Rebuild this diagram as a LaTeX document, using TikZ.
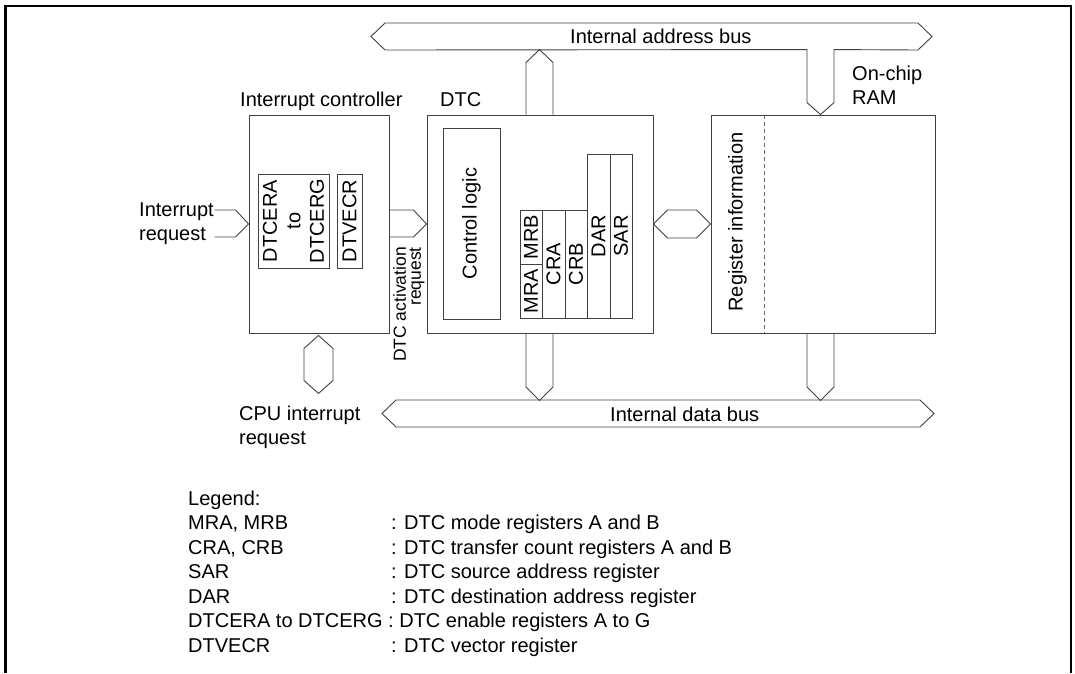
\documentclass[tikz,border=0pt]{standalone}
\usepackage{fontspec}
\setmainfont{Liberation Sans}
\usetikzlibrary{calc}
\tikzset{
  ln/.style={draw=black!75, line width=0.9pt, line join=miter},
  box/.style={ln, rectangle, inner sep=0pt},
  txt/.style={inner sep=0pt, text=black, font=\fontsize{20}{24.5}\selectfont},
}
\begin{document}
\begin{tikzpicture}[x=1pt,y=-1pt]
\useasboundingbox (0,0) rectangle (1075,673);
% outer frame
\draw[line width=2.2pt, black] (5.5,673) -- (5.5,6) -- (1070.7,6) -- (1070.7,673);

% main boxes
\node[box, minimum width=140, minimum height=218] (ic) at (319,224) {};
\node[box, minimum width=226, minimum height=218] (dtc) at (540,224) {};
\node[box, minimum width=224, minimum height=218] (ram) at (823,224) {};

% interrupt controller registers
\node[box, txt, rotate=90, minimum width=94, minimum height=71, align=center,
      font=\fontsize{20}{23.5}\selectfont] (dtcer) at (293.5,221) {DTCERA\\to\\DTCERG};
\node[box, txt, rotate=90, minimum width=94, minimum height=25] (dtvecr) at (349.5,221) {DTVECR};

% DTC internals
\node[box, txt, rotate=90, minimum width=191, minimum height=57] (ctrl) at (471.5,223.5) {Control logic};
\node[box, txt, rotate=90, minimum width=54, minimum height=22] (mrb) at (531,237) {MRB};
\node[box, txt, rotate=90, minimum width=54, minimum height=22] (mra) at (531,291) {MRA};
\node[box, txt, rotate=90, minimum width=108, minimum height=23] (cra) at (553.5,264) {CRA};
\node[box, txt, rotate=90, minimum width=108, minimum height=22] (crb) at (576,264) {CRB};
\node[box, txt, rotate=90, minimum width=164, minimum height=23] (dar) at (598.5,236) {DAR};
\node[box, txt, rotate=90, minimum width=164, minimum height=22] (sar) at (621,236) {SAR};

% RAM internals
\node[txt, rotate=90] (reginfo) at (737.5,222) {Register information};
\draw[draw=black!60, line width=0.9pt, dash pattern=on 4pt off 3pt]
  ($(ram.north west)+(54,0)$) -- ($(ram.south west)+(54,0)$);

% labels
\node[txt, anchor=base west] (iclbl) at (240,106) {Interrupt controller};
\node[txt, anchor=base west] (dtclbl) at (440,106) {DTC};
\node[txt, anchor=north west, align=left] (ramlbl) at (852,65.5) {On-chip\\RAM};
\node[txt, anchor=north west, align=left] (irq) at (139,202.5) {Interrupt\\request};
\node[txt, anchor=north west, align=left] (cpuirq) at (239,405.5) {CPU interrupt\\request};
\node[txt, rotate=90, anchor=north east, align=right,
      font=\fontsize{17.5}{15}\selectfont] (act) at (393,247) {DTC activation\\request};

% internal address bus with T-branch into RAM
\draw[ln] (371,36.5) -- (385,23) -- (918,23) -- (932,36.5) -- (918,50)
  -- ($(ram.north)+(11,-65)$) -- ($(ram.north)+(11,-12)$) -- ($(ram.north)+(-2.5,0)$)
  -- ($(ram.north)+(-16,-12)$) -- ($(ram.north)+(-16,-65)$) -- (385,50) -- cycle;
\node[txt, anchor=base west] (abus) at (570,43.7) {Internal address bus};

% DTC to address bus
\draw[ln] ($(dtc.north)+(-14,0)$) -- ++(0,-52) -- ++(13.5,-13) -- ++(13.5,13) -- ($(dtc.north)+(13,0)$);

% internal data bus
\draw[ln] (382,413.5) -- (396,400) -- (920,400) -- (934,413.5) -- (920,427) -- (396,427) -- cycle;
\node[txt, anchor=base west] (dbus) at (610,421) {Internal data bus};

% DTC and RAM to data bus
\draw[ln] ($(dtc.south)+(-14,0)$) -- ++(0,53.5) -- ++(13.5,13.5) -- ++(13.5,-13.5) -- ($(dtc.south)+(13,0)$);
\draw[ln] ($(ram.south)+(-16,0)$) -- ++(0,53.5) -- ++(13.5,13.5) -- ++(13.5,-13.5) -- ($(ram.south)+(11,0)$);

% CPU interrupt request (bidirectional)
\draw[ln] ($(ic.south)+(-15,15)$) -- ++(14.5,-13) -- ++(14.5,13) -- ++(0,32) -- ++(-14.5,13) -- ++(-14.5,-13) -- cycle;

% interrupt request into IC
\draw[ln] ($(ic.west)+(-34,-14)$) -- ++(21,0) -- (ic.west) -- ($(ic.west)+(-13,13)$) -- ++(-21,0);

% DTC activation request
\draw[ln] ($(ic.east)+(0,-14)$) -- ++(24,0) -- (dtc.west) -- ($(ic.east)+(24,13)$) -- ($(ic.east)+(0,13)$);

% DTC <-> RAM
\draw[ln] (dtc.east) -- ++(14,-14) -- ($(ram.west)+(-14,-14)$) -- (ram.west)
  -- ($(ram.west)+(-14,14)$) -- ($(dtc.east)+(14,14)$) -- cycle;

% legend
\node[txt, anchor=base west] (lg) at (188,505) {Legend:};
\node[txt, anchor=base west] (l1) at (188,529.5) {MRA, MRB};
\node[txt, anchor=base west] (d1) at (391,529.5) {: DTC mode registers A and B};
\node[txt, anchor=base west] (l2) at (188,554) {CRA, CRB};
\node[txt, anchor=base west] (d2) at (391,554) {: DTC transfer count registers A and B};
\node[txt, anchor=base west] (l3) at (188,578.5) {SAR};
\node[txt, anchor=base west] (d3) at (391,578.5) {: DTC source address register};
\node[txt, anchor=base west] (l4) at (188,603) {DAR};
\node[txt, anchor=base west] (d4) at (391,603) {: DTC destination address register};
\node[txt, anchor=base west] (l5) at (188,627.5) {DTCERA to DTCERG : DTC enable registers A to G};
\node[txt, anchor=base west] (l6) at (188,652) {DTVECR};
\node[txt, anchor=base west] (d6) at (391,652) {: DTC vector register};
\end{tikzpicture}
\end{document}
